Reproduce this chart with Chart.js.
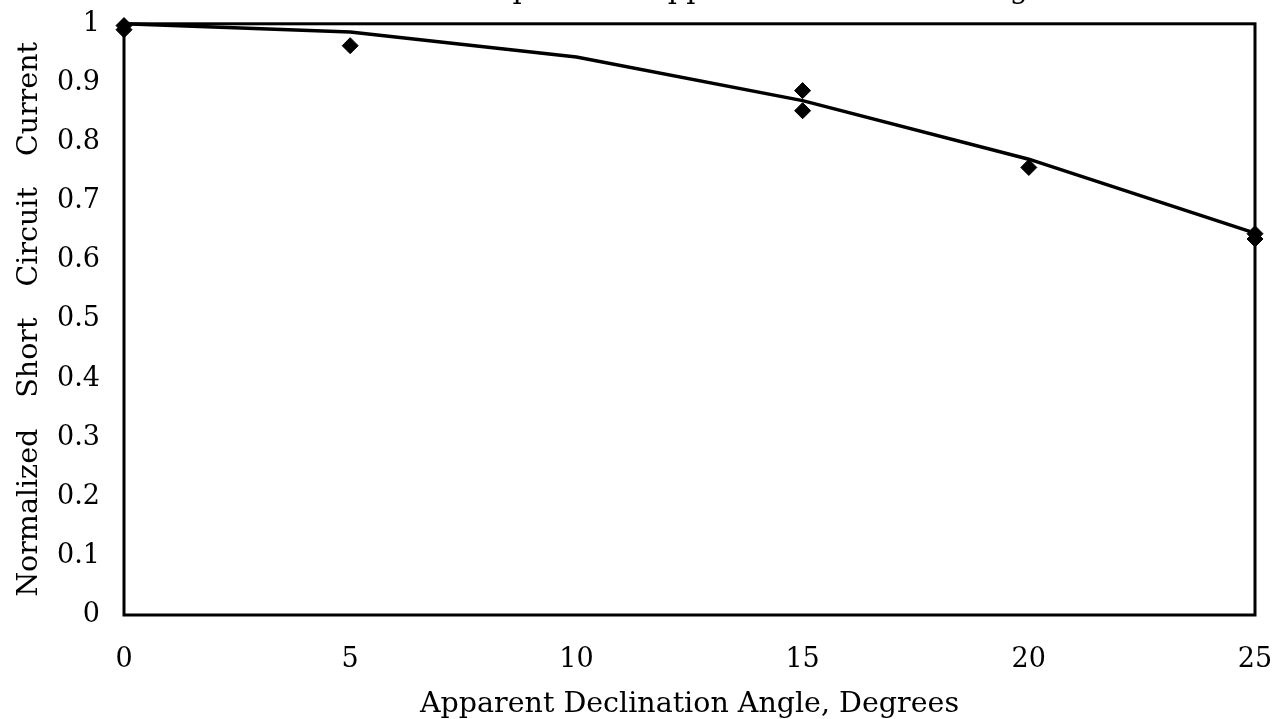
<!DOCTYPE html>
<html>
<head>
<meta charset="utf-8">
<script src="https://cdn.jsdelivr.net/npm/chart.js@4.4.0/dist/chart.umd.min.js"></script>
<style>
  html, body { margin: 0; padding: 0; background: #ffffff; overflow: hidden; }
  #wrap { position: absolute; left: 0; top: -27px; width: 1288px; height: 749px; }
</style>
</head>
<body>
<div id="wrap"><canvas id="c"></canvas></div>
<script>
// ---- data ----
const chartTitle = 'Short Circuit Current Response to Apparent Declination Angle';
const xAxisTitle = 'Apparent Declination Angle, Degrees';
const yAxisTitle = 'Normalized Short Circuit Current';

const measuredX = [0, 0, 5, 15, 15, 20, 25, 25];
const measuredY = [0.997, 0.99, 0.963, 0.887, 0.853, 0.757, 0.645, 0.636];

const curveX = [0, 5, 10, 15, 20, 25, 25.3];
const curveY = [1.0, 0.986, 0.944, 0.870, 0.771, 0.646, 0.630];

const xTickValues = [0, 5, 10, 15, 20, 25];
const xTickLabels = ['0', '5', '10', '15', '20', '25'];
const yTickValues = [0, 0.1, 0.2, 0.3, 0.4, 0.5, 0.6, 0.7, 0.8, 0.9, 1];
const yTickLabels = ['0', '0.1', '0.2', '0.3', '0.4', '0.5', '0.6', '0.7', '0.8', '0.9', '1'];

const FONT = "'DejaVu Serif', 'Liberation Serif', serif";
const LEFT_PAD = -68;

const toPoints = (xs, ys) => xs.map((x, i) => ({ x: x, y: ys[i] }));

const framePlugin = {
  id: 'frame',
  beforeDatasetsDraw(chart) {
    const { ctx, chartArea: a } = chart;
    ctx.save();
    ctx.strokeStyle = '#000';
    ctx.lineWidth = 3;
    ctx.strokeRect(a.left, a.top, a.right - a.left, a.bottom - a.top);
    ctx.restore();
  }
};

const spacingPlugin = {
  id: 'ytitleSpacing',
  beforeDraw(chart) {
    const s = chart.scales.y;
    if (s && !s._wsPatched) {
      const orig = s.drawTitle.bind(s);
      s.drawTitle = function () {
        const ctx = chart.ctx;
        ctx.save();
        try { ctx.wordSpacing = '22px'; } catch (e) {}
        orig();
        ctx.restore();
      };
      s._wsPatched = true;
    }
  }
};

new Chart(document.getElementById('c'), {
  type: 'scatter',
  data: {
    datasets: [
      {
        label: 'Curve',
        data: toPoints(curveX, curveY),
        showLine: true,
        borderColor: '#000',
        borderWidth: 3.5,
        pointRadius: 0,
        fill: false,
        tension: 0,
        clip: false,
        order: 2
      },
      {
        label: 'Measured',
        data: toPoints(measuredX, measuredY),
        showLine: false,
        pointStyle: 'rectRot',
        pointRadius: 8,
        pointBackgroundColor: '#000',
        pointBorderColor: '#000',
        pointBorderWidth: 1,
        clip: false,
        order: 1
      }
    ]
  },
  options: {
    responsive: true,
    maintainAspectRatio: false,
    animation: false,
    layout: { padding: { left: LEFT_PAD, right: 33, top: 0, bottom: 0 } },
    plugins: {
      legend: { display: false },
      tooltip: { enabled: false },
      title: {
        display: true,
        text: chartTitle,
        color: '#000',
        font: { family: FONT, size: 29, weight: 'normal' },
        padding: { top: 0, bottom: 16 }
      }
    },
    scales: {
      x: {
        type: 'linear',
        min: 0,
        max: 25,
        afterBuildTicks(scale) { scale.ticks = xTickValues.map(v => ({ value: v })); },
        afterFit(scale) { scale.height = 107; scale.paddingRight = 0; scale.paddingLeft = 0; },
        ticks: {
          color: '#000',
          font: { family: FONT, size: 27 },
          padding: 29,
          maxRotation: 0,
          callback(v) { const i = xTickValues.indexOf(v); return i >= 0 ? xTickLabels[i] : ''; }
        },
        grid: { display: false, drawTicks: false },
        border: { display: false },
        title: {
          display: true,
          text: xAxisTitle,
          color: '#000',
          font: { family: FONT, size: 28.5 },
          padding: { top: 4, bottom: 0 }
        }
      },
      y: {
        type: 'linear',
        min: 0,
        max: 1,
        afterBuildTicks(scale) { scale.ticks = yTickValues.map(v => ({ value: v })); },
        afterFit(scale) { scale.width = 124 - LEFT_PAD; },
        ticks: {
          color: '#000',
          font: { family: FONT, size: 27 },
          padding: 24,
          callback(v) {
            const i = yTickValues.findIndex(t => Math.abs(t - v) < 1e-9);
            return i >= 0 ? yTickLabels[i] : '';
          }
        },
        grid: { display: false, drawTicks: false },
        border: { display: false },
        title: {
          display: true,
          text: yAxisTitle,
          color: '#000',
          font: { family: FONT, size: 28.5 },
          padding: { top: 12 - LEFT_PAD, bottom: 0 }
        }
      }
    }
  },
  plugins: [framePlugin, spacingPlugin]
});
</script>
</body>
</html>
